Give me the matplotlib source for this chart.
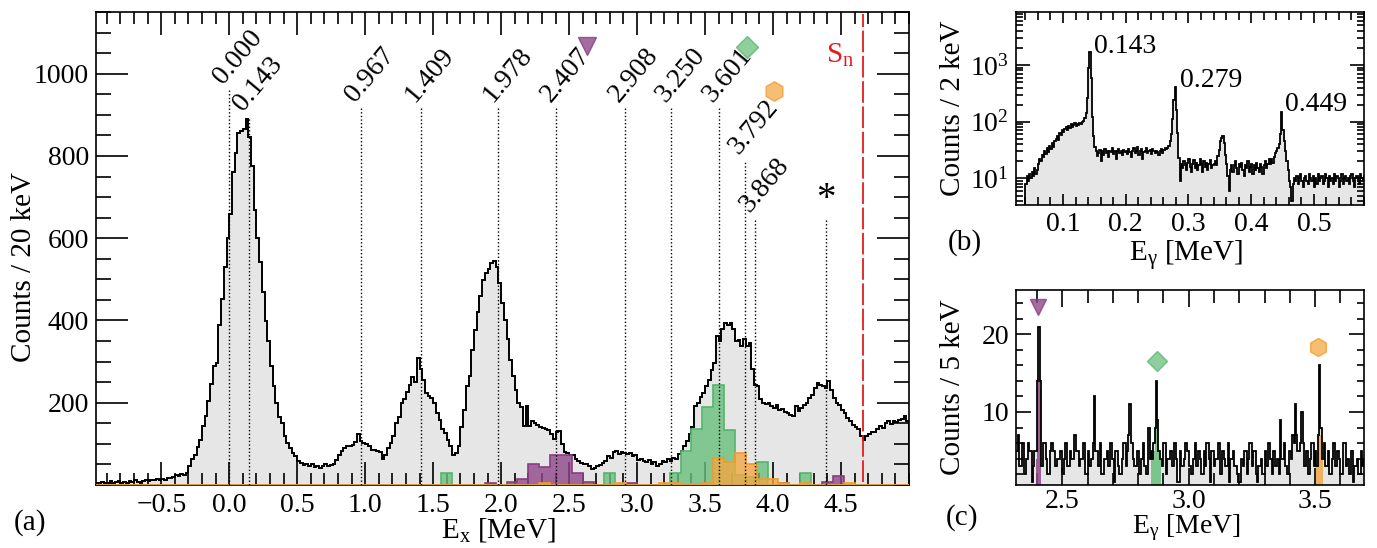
import numpy as np
import matplotlib.pyplot as plt
import matplotlib.transforms as mtransforms
from matplotlib.ticker import MultipleLocator, FixedLocator, LogLocator, NullFormatter

plt.rcParams['font.family'] = ['Liberation Serif', 'DejaVu Serif']
plt.rcParams['mathtext.fontset'] = 'custom'
plt.rcParams['mathtext.rm'] = 'Liberation Serif'
plt.rcParams['mathtext.it'] = 'Liberation Serif:italic'
plt.rcParams['mathtext.bf'] = 'Liberation Serif:bold'
plt.rcParams['axes.linewidth'] = 1.2

# ---------------- (a) excitation energy spectrum, 20 keV bins from -1.0 MeV
ex_counts = np.array(
    [3, 5, 4, 8, 6, 5, 9, 4, 7, 10, 6, 8, 5, 9, 7, 11, 8, 6, 10, 12, 9, 13, 11, 14, 12]
    + [15, 13, 18, 16, 20, 24, 22, 26, 25, 28]
    + [45, 62, 74, 92, 110, 143, 168, 204, 245, 289, 296, 388, 452, 530, 600]
    + [660, 760, 808, 855, 860, 865, 890, 845, 775, 669, 601, 541, 470, 398, 349]
    + [289, 240, 200, 165, 151, 120, 103, 90, 78, 70, 58, 54, 48, 52, 45]
    + [50, 44, 47, 42, 46, 50, 45, 49, 52, 60]
    + [72, 82, 90, 94, 96, 98, 105, 123, 108, 103, 100, 95, 85, 86, 82, 80, 62, 72, 90, 103]
    + [120, 151, 165, 200, 210, 225, 244, 262, 250, 309, 281, 256, 224, 216, 212, 200, 175,
       159, 135, 127, 110, 94, 74, 78, 94]
    + [140, 183, 240, 264, 329, 378, 420, 459, 499, 516, 524, 540, 545, 530, 490, 443, 402,
       354, 305, 264, 232, 200, 190, 143, 192]
    + [143, 155, 150, 147, 140, 139, 135, 133, 125, 112, 128, 131, 100, 80, 78, 74, 72, 62,
       58, 54, 52, 50, 45, 38, 42]
    + [46, 48, 54, 58, 70, 66, 80, 82, 75, 80, 78, 76, 78, 70, 72, 60, 62, 58, 55, 60, 52,
       56, 46, 52, 58, 55, 62, 58, 66, 64]
    + [75, 82, 95, 106, 125, 140, 192, 200, 215, 224, 240, 256, 280, 297, 362, 350, 380,
       394, 390, 394, 380, 349, 352, 337, 354, 337, 345, 281, 244, 240]
    + [210, 200, 196, 200, 192, 188, 195, 183, 185, 178, 175, 171, 168, 192, 180, 188, 195,
       200, 212, 220, 236, 248, 244, 240, 236, 252, 230, 212, 200, 195, 183, 175, 163, 155,
       147, 140, 135, 120, 110, 118]
    + [125, 130, 128, 135, 143, 138, 150, 155, 148, 155, 152, 158, 160, 167, 155])
ex_edges = -1.0 + 0.02 * np.arange(len(ex_counts) + 1)

# gated spectra, 80 keV bins starting at 1.48 MeV
gate_start = 1.48
purple_gate = [0, 0, 0, 0, 0, 4, 0, 7, 15, 51, 43, 73, 73, 28, 8, 0, 0, 0, 4, 0,
               0, 0, 0, 0, 0, 0, 0, 0, 0, 0, 0, 0, 4, 0, 0, 0, 7, 22, 0, 0]
green_gate = [0, 28, 0, 0, 0, 0, 0, 0, 0, 0, 0, 0, 0, 0, 0, 0, 28, 0, 0, 0,
              0, 0, 28, 82, 137, 189, 243, 134, 25, 20, 55, 0, 0, 0, 28, 0, 0, 0, 0, 0]
orange_gate = [0, 0, 0, 0, 0, 0, 0, 0, 0, 0, 5, 0, 0, 0, 0, 0, 0, 4, 0, 0,
               0, 4, 4, 0, 3, 6, 65, 56, 78, 51, 15, 15, 4, 0, 4, 0, 0, 0, 5, 0]

level_E = [0.000, 0.143, 0.967, 1.409, 1.978, 2.407, 2.908, 3.250, 3.601, 3.792, 3.868]
level_labels = ['0.000', '0.143', '0.967', '1.409', '1.978', '2.407', '2.908', '3.250',
                '3.601', '3.792', '3.868']
level_top = [961, 895, 917, 917, 917, 917, 917, 917, 917, 791, 650]
star_E, star_top = 4.39, 650
sn_E = 4.66

# ---------------- (b) low-energy gamma spectrum, 2 keV bins from 0.040 MeV
gb_counts = np.array(
    [8, 11, 9, 12, 10, 13, 11, 15, 12, 14]
    + [18, 22, 20, 26, 24, 30, 27, 34, 29, 38, 33, 42, 36, 45, 50]
    + [55, 48, 62, 58, 70, 66, 75, 80, 72, 85, 78, 90, 82, 88, 95]
    + [85, 92, 88, 96, 90, 98, 105, 115, 140, 260, 900, 1700, 600, 120, 55]
    + [36, 30, 25, 28, 32, 20, 30, 26, 33, 28, 31, 24, 30, 29, 34, 27, 31, 22, 30, 33, 28,
       31, 26, 32, 29]
    + [31, 27, 33, 29, 24, 30, 34, 28, 31, 36, 26, 30, 33, 22, 29, 31, 35, 28, 30, 32, 27,
       33, 30, 28, 31, 29, 26, 30, 33, 28, 32, 35]
    + [33, 35, 38, 45, 60, 110, 240, 415, 160, 62, 23, 9, 18]
    + [15, 20, 17, 14, 19, 22, 16, 13, 18, 21, 15, 19, 14, 17, 22, 18, 13, 20, 16, 19, 14,
       18, 21, 15, 17]
    + [18, 20, 17, 25, 32, 45, 52, 56, 42, 26, 18, 11, 6, 14, 17]
    + [13, 17, 20, 15, 12, 18, 16, 19, 14, 11, 17, 15, 20, 13, 16, 18, 12, 17, 14, 19, 15,
       13, 18, 16, 12, 17, 20, 15, 18, 22]
    + [18, 22, 19, 24, 28, 30, 34, 40, 60, 150, 72, 45, 30, 20, 14, 9, 7, 4, 8, 10]
    + [9, 11, 8, 10, 12, 9, 7, 10, 11, 9, 8, 12, 10, 9, 11, 7, 10, 8, 12, 9,
       10, 11, 8, 9, 12, 10, 7, 11, 9, 10, 8, 12, 9, 11, 10, 7, 9, 12, 8, 10,
       11, 9, 10, 8, 11, 12, 9, 7, 10, 11, 9, 8, 12, 10, 9, 11, 8, 10, 9, 11,
       10, 9])
gb_edges = 0.040 + 0.002 * np.arange(len(gb_counts) + 1)
gb_peak_labels = ['0.143', '0.279', '0.449']
gb_label_pos = [(0.150, 2100), (0.286, 540), (0.454, 205)]

# ---------------- (c) high-energy gamma spectrum, 5 keV bins from 2.315 MeV
gc_counts = np.array(
    [5, 5, 7, 3, 3, 6, 6, 2, 4, 4, 6, 5, 5, 1, 3, 5, 5, 14, 21, 14]
    + [3, 3, 6, 6, 4, 2, 2, 5, 6, 6, 5, 3, 3, 4, 4, 5, 5, 2, 4, 6]
    + [6, 3, 3, 5, 4, 4, 7, 7, 5, 5, 3, 4, 4, 6, 6, 2, 2, 5, 3, 3]
    + [4, 6, 12, 5, 5, 3, 3, 6, 2, 2, 4, 4, 5, 3, 3, 6, 4, 4, 1, 5]
    + [5, 3, 2, 2, 4, 6, 6, 3, 5, 7, 11, 6, 6, 4, 3, 3, 5, 5, 2, 4]
    + [4, 6, 3, 2, 2, 8, 4, 5, 4, 6, 8, 14, 9, 5, 4, 4, 3, 6, 6, 2]
    + [4, 4, 5, 5, 3, 6, 6, 4, 1, 1, 5, 3, 3, 4, 6, 6, 5, 3, 3, 2]
    + [4, 4, 6, 3, 5, 5, 4, 2, 2, 5, 3, 6, 6, 4, 1, 5, 5, 3, 4, 4]
    + [6, 6, 2, 5, 5, 4, 3, 3, 6, 1, 4, 4, 5, 3, 3, 2, 1, 1, 4, 4]
    + [3, 5, 5, 2, 4, 6, 6, 3, 5, 5, 2, 1, 3, 3, 4, 2, 2, 5, 3, 3]
    + [6, 4, 4, 2, 5, 3, 3, 4, 2, 9, 4, 4, 6, 3, 3, 2, 5, 5, 4, 7]
    + [6, 11, 7, 5, 5, 6, 10, 6, 3, 3, 5, 2, 2, 4, 6, 6, 3, 5, 3, 7]
    + [16, 8, 4, 4, 6, 3, 3, 5, 2, 2, 4, 6, 6, 3, 5, 5, 4, 2, 2, 6]
    + [6, 3, 4, 4, 2, 5, 5, 1, 3, 3, 4, 2, 2, 5, 3, 4])
gc_edges = 2.315 + 0.005 * np.arange(len(gc_counts) + 1)
purple_c_start, purple_c = 2.395, [4, 13, 14, 13]
green_c_start, green_c = 2.850, [4, 4, 5, 8, 11, 9, 5, 4]
orange_c_start, orange_c = 3.505, [3, 5, 9, 7, 4]

# colours
gray_fill = '#e6e6e6'
purple, purple_edge = '#8e4788', '#8a3c82'
green, green_edge = '#69c07c', '#55b56a'
orange, orange_edge = '#f2a844', '#f39a2a'

fig = plt.figure(figsize=(13.77, 5.48), dpi=100)
W, H = 1377, 548


def px_axes(l, t, r, b):
    return fig.add_axes([l / W, 1 - b / H, (r - l) / W, (b - t) / H])


ax = px_axes(96, 12, 909, 485)
axb = px_axes(1016, 12, 1364, 205)
axc = px_axes(1016, 290, 1364, 485)

# ---------------- panel (a)
ax.stairs(ex_counts, ex_edges, fill=True, color=gray_fill, zorder=1)
ax.stairs(ex_counts, ex_edges, color='k', lw=1.4, zorder=2)

coarse_edges = -1.0 + 0.08 * np.arange(76)
i0 = int(round((gate_start + 1.0) / 0.08))
for vals, fc, ec in [(purple_gate, purple, purple_edge), (green_gate, green, green_edge),
                     (orange_gate, orange, orange_edge)]:
    full = np.zeros(75)
    full[i0:i0 + len(vals)] = vals
    ax.stairs(full, coarse_edges, fill=True, color=fc, alpha=0.8, zorder=3)
    ax.stairs(full, coarse_edges, color=ec, lw=1.2, zorder=3)

for e, top in zip(level_E + [star_E], level_top + [star_top]):
    ax.plot([e, e], [0, top], color='k', lw=1.0, ls=(0, (1, 1.6)), zorder=4)

lab_tr = mtransforms.offset_copy(ax.transData, fig=fig, x=-6, y=5, units='dots')
for e, top, lab in zip(level_E, level_top, level_labels):
    ax.text(e, top, lab, transform=lab_tr, rotation=50, rotation_mode='anchor',
            ha='left', va='baseline', fontsize=20, zorder=5)

ax.text(star_E, star_top + 20, '*', ha='center', va='baseline', fontsize=28, zorder=5)
ax.plot([2.63], [1068], marker='v', ms=13, mfc=purple, mec=purple_edge, alpha=0.8, ls='none')
ax.plot([3.807], [1066], marker='D', ms=11, mfc=green, mec=green_edge, alpha=0.75, ls='none')
ax.plot([4.01], [959], marker='h', ms=14, mfc=orange, mec=orange_edge, alpha=0.75, ls='none')

ax.plot([sn_E, sn_E], [8, 1145], color='#e41a1c', lw=1.3, ls=(0, (12, 2)), zorder=5)
ax.text(4.60, 1044, r'S$_\mathrm{n}$', color='#e41a1c', ha='right', va='center', fontsize=21)

ax.set_xlim(-0.98, 5.0)
ax.set_ylim(0, 1150)
ax.xaxis.set_major_locator(FixedLocator([-0.5, 0.0, 0.5, 1.0, 1.5, 2.0, 2.5, 3.0, 3.5, 4.0, 4.5]))
ax.xaxis.set_minor_locator(MultipleLocator(0.1))
ax.yaxis.set_major_locator(FixedLocator([200, 400, 600, 800, 1000]))
ax.yaxis.set_minor_locator(MultipleLocator(50))
ax.tick_params(which='both', direction='in', top=True, right=True, width=1.2, labelsize=20)
ax.tick_params(axis='y', which='major', length=23, pad=5)
ax.tick_params(axis='y', which='minor', length=11)
ax.tick_params(axis='x', which='major', length=16.5, pad=6)
ax.tick_params(axis='x', which='minor', length=8.5)
ax.set_xlabel(r'E$_\mathrm{x}$ [MeV]', fontsize=21)
ax.xaxis.set_label_coords(0.495, -0.066)
ax.set_ylabel('Counts / 20 keV', fontsize=21)
ax.yaxis.set_label_coords(-0.072, 0.46)

# ---------------- panel (b)
axb.stairs(gb_counts, gb_edges, baseline=1, fill=True, color=gray_fill, zorder=1)
axb.stairs(gb_counts, gb_edges, baseline=1, color='k', lw=1.3, zorder=2)
for (x, y), lab in zip(gb_label_pos, gb_peak_labels):
    axb.text(x, y, lab, ha='left', va='center', fontsize=20)
axb.set_yscale('log')
axb.set_xlim(0.025, 0.58)
axb.set_ylim(3.4, 8600)
axb.xaxis.set_major_locator(FixedLocator([0.1, 0.2, 0.3, 0.4, 0.5]))
axb.xaxis.set_minor_locator(MultipleLocator(0.02))
axb.yaxis.set_major_locator(LogLocator(base=10, numticks=10))
axb.yaxis.set_minor_locator(LogLocator(base=10, subs=np.arange(2, 10), numticks=20))
axb.yaxis.set_minor_formatter(NullFormatter())
axb.tick_params(which='both', direction='in', top=True, right=True, width=1.2, labelsize=20)
axb.tick_params(axis='y', which='major', length=10, pad=5)
axb.tick_params(axis='y', which='minor', length=5)
axb.tick_params(axis='x', which='major', length=8, pad=5)
axb.tick_params(axis='x', which='minor', length=6)
axb.set_xlabel(r'E$_\mathrm{γ}$ [MeV]', fontsize=21)
axb.xaxis.set_label_coords(0.49, -0.17)
axb.set_ylabel('Counts / 2 keV', fontsize=21)
axb.yaxis.set_label_coords(-0.145, 0.5)

# ---------------- panel (c)
axc.stairs(gc_counts, gc_edges, fill=True, color=gray_fill, zorder=1)
for start, vals, fc in [(purple_c_start, purple_c, purple), (green_c_start, green_c, green),
                        (orange_c_start, orange_c, orange)]:
    edges = start + 0.005 * np.arange(len(vals) + 1)
    axc.stairs(vals, edges, fill=True, color=fc, alpha=0.85, zorder=2)
axc.stairs(gc_counts, gc_edges, color='k', lw=1.3, zorder=3)
axc.plot([2.405], [23.5], marker='v', ms=11, mfc=purple, mec=purple_edge, alpha=0.8, ls='none')
axc.plot([2.875], [16.6], marker='D', ms=10, mfc=green, mec=green_edge, alpha=0.75, ls='none')
axc.plot([3.513], [18.3], marker='h', ms=13, mfc=orange, mec=orange_edge, alpha=0.75, ls='none')
axc.set_xlim(2.317, 3.693)
axc.set_ylim(0.6, 25.7)
axc.xaxis.set_major_locator(FixedLocator([2.5, 3.0, 3.5]))
axc.xaxis.set_minor_locator(MultipleLocator(0.1))
axc.yaxis.set_major_locator(FixedLocator([10, 20]))
axc.yaxis.set_minor_locator(MultipleLocator(2))
axc.tick_params(which='both', direction='in', top=True, right=True, width=1.2, labelsize=20)
axc.tick_params(axis='y', which='major', length=11, pad=5)
axc.tick_params(axis='y', which='minor', length=5)
axc.tick_params(axis='x', which='major', length=12, pad=3)
axc.tick_params(axis='x', which='minor', length=9)
axc.set_xlabel(r'E$_\mathrm{γ}$ [MeV]', fontsize=20)
axc.xaxis.set_label_coords(0.49, -0.14)
axc.set_ylabel('Counts / 5 keV', fontsize=21)
axc.yaxis.set_label_coords(-0.145, 0.5)

fig.text(30 / W, 1 - 523 / H, '(a)', ha='center', va='center', fontsize=21)
fig.text(965 / W, 1 - 243 / H, '(b)', ha='center', va='center', fontsize=21)
fig.text(962 / W, 1 - 518 / H, '(c)', ha='center', va='center', fontsize=21)

fig.savefig('out.png', dpi=100)
